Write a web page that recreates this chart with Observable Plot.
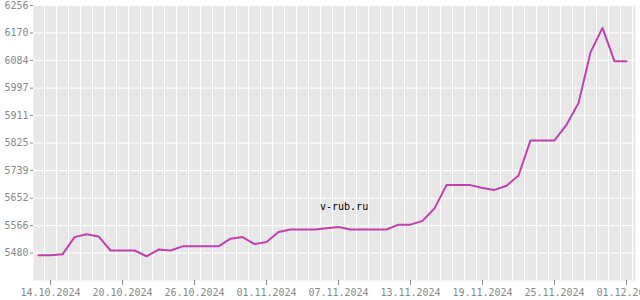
<!DOCTYPE html>
<html>
<head>
<meta charset="utf-8">
<script src="https://cdn.jsdelivr.net/npm/d3@7"></script>
<script src="https://cdn.jsdelivr.net/npm/@observablehq/plot@0.6"></script>
<style>
  html, body { margin: 0; padding: 0; background: white; overflow: hidden; }
  #wrap { position: relative; width: 640px; height: 300px; }
  #wm { position: absolute; left: 320px; top: 201px; font-family: "DejaVu Sans Mono", monospace; font-size: 10px; color: #000; }
</style>
</head>
<body>
<div id="wrap"><div id="chart"></div><div id="wm">v-rub.ru</div></div>
<script>
const dates = [
  "2024-10-13","2024-10-14","2024-10-15","2024-10-16","2024-10-17","2024-10-18","2024-10-19",
  "2024-10-20","2024-10-21","2024-10-22","2024-10-23","2024-10-24","2024-10-25","2024-10-26",
  "2024-10-27","2024-10-28","2024-10-29","2024-10-30","2024-10-31","2024-11-01","2024-11-02",
  "2024-11-03","2024-11-04","2024-11-05","2024-11-06","2024-11-07","2024-11-08","2024-11-09",
  "2024-11-10","2024-11-11","2024-11-12","2024-11-13","2024-11-14","2024-11-15","2024-11-16",
  "2024-11-17","2024-11-18","2024-11-19","2024-11-20","2024-11-21","2024-11-22","2024-11-23",
  "2024-11-24","2024-11-25","2024-11-26","2024-11-27","2024-11-28","2024-11-29","2024-11-30",
  "2024-12-01"
];
const values = [
  5473, 5473, 5476, 5530, 5539, 5532, 5488,
  5488, 5488, 5470, 5491, 5488, 5501, 5501,
  5501, 5501, 5525, 5530, 5508, 5515, 5546,
  5554, 5554, 5554, 5558, 5562, 5554, 5554,
  5554, 5554, 5569, 5569, 5581, 5620, 5693,
  5693, 5693, 5684, 5678, 5691, 5723, 5833,
  5833, 5833, 5882, 5950, 6109, 6186, 6081,
  6081
];
const yTicks = [5480, 5566, 5652, 5739, 5825, 5911, 5997, 6084, 6170, 6256];
const xTickDates = ["2024-10-14","2024-10-20","2024-10-26","2024-11-01","2024-11-07","2024-11-13","2024-11-19","2024-11-25","2024-12-01"];

const parse = d3.utcParse("%Y-%m-%d");
const data = dates.map((d, i) => ({date: parse(d), value: values[i]}));
const xTicks = xTickDates.map(parse);
const DAY = 864e5;
const x0 = new Date(+parse(dates[0]) - 0.42 * DAY);
const x1 = new Date(+parse(dates[dates.length - 1]) + 0.75 * DAY);
// vertical grid at noon of each day
const gridDays = d3.utcDay.range(d3.utcDay.offset(parse(dates[0]), -1), d3.utcDay.offset(parse(dates[dates.length - 1]), 2))
  .map(d => new Date(+d + 0.5 * DAY)).filter(d => d >= x0 && d <= x1);

const chart = Plot.plot({
  width: 640,
  height: 300,
  marginLeft: 33,
  marginRight: 5,
  marginTop: 5,
  marginBottom: 20,
  style: {fontFamily: "DejaVu Sans Mono, monospace", fontSize: "10px", color: "#888", background: "white", overflow: "visible"},
  x: {type: "utc", domain: [x0, x1]},
  y: {domain: [5394, 6256]},
  marks: [
    Plot.frame({fill: "#e7e7e7", stroke: null}),
    Plot.gridY(yTicks, {stroke: "white", strokeOpacity: 1, strokeWidth: 1}),
    Plot.ruleX(gridDays, {stroke: "white", strokeWidth: 1}),
    Plot.axisY(yTicks, {tickSize: 3, tickPadding: 2, tickFormat: d => String(d), stroke: "#888", fill: "#888", label: null}),
    Plot.axisX(xTicks, {tickSize: 5, tickPadding: 3, tickFormat: d3.utcFormat("%d.%m.%Y"), stroke: "#888", fill: "#888", label: null}),
    Plot.line(data, {x: "date", y: "value", stroke: "#c040b0", strokeWidth: 2})
  ]
});
document.getElementById("chart").appendChild(chart);
</script>
</body>
</html>
